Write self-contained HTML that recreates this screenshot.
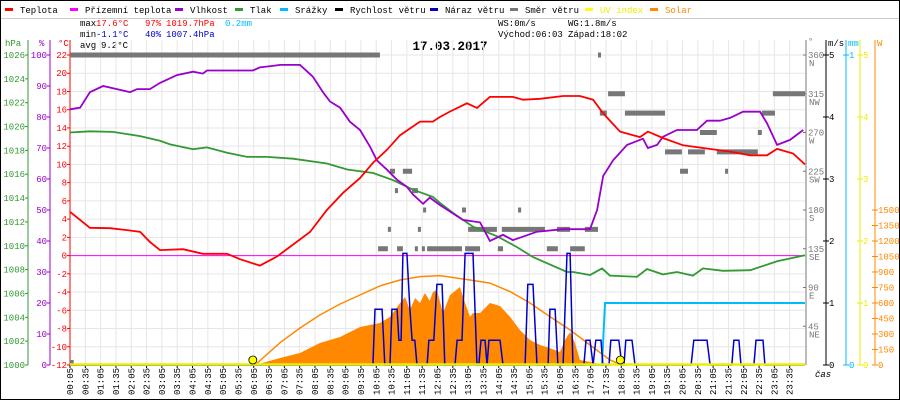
<!DOCTYPE html>
<html><head><meta charset="utf-8"><style>
html,body{margin:0;padding:0;background:#fff}
svg{display:block}
text{font-family:"Liberation Mono",monospace;font-size:9px}
</style></head><body>
<svg id="chart" width="900" height="400" viewBox="0 0 900 400" xmlns="http://www.w3.org/2000/svg">
<rect x="0.5" y="0.5" width="899" height="399" fill="#fff" stroke="#000"/>
<g id="legend"></g>
<g>
<text x="80" y="26" fill="#000">max</text><text x="96" y="26" fill="#f00">17.6°C</text><text x="145" y="26" fill="#f00">97%</text><text x="166" y="26" fill="#f00">1019.7hPa</text><text x="225" y="26" fill="#0bf">0.2mm</text>
<text x="80" y="37" fill="#000">min</text><text x="96" y="37" fill="#00c">-1.1°C</text><text x="145" y="37" fill="#00c">40%</text><text x="166" y="37" fill="#00c">1007.4hPa</text>
<text x="80" y="48" fill="#000">avg</text><text x="101" y="48" fill="#000">9.2°C</text>
<text x="498" y="26" fill="#000">WS:0m/s</text><text x="568" y="26" fill="#000">WG:1.8m/s</text>
<text x="498" y="37" fill="#000">Východ:06:03</text><text x="568" y="37" fill="#000">Západ:18:02</text>
</g>
<text x="450" y="50" text-anchor="middle" style="font-size:12.5px;font-weight:bold">17.03.2017</text>
<g id="grid"></g>
<g id="axes"></g>
<g id="series"></g>
</svg>
<script>
// ---- data (hours since 00:05) ----
const tempH=[0,0.65,1.31,1.86,2.29,2.61,2.94,3.69,4.34,5.13,5.55,6.20,6.76,7.28,7.84,8.39,8.92,9.47,9.90,10.35,10.78,11.43,11.85,12.08,12.41,12.96,13.29,13.71,14.46,14.79,15.35,16.10,16.65,17.08,17.41,17.96,18.61,18.87,19.36,20.02,20.67,21.55,22.21,22.76,23.09,23.61,24.0];
const tempV=[4.8,3.05,3.0,2.8,2.6,1.5,0.6,0.7,0.2,0.2,-0.4,-1.1,-0.1,1.2,2.6,5.0,6.9,8.5,10.2,11.6,13.2,14.7,14.7,15.2,15.8,16.7,16.2,17.4,17.4,17.1,17.2,17.5,17.5,17.1,15.6,13.6,13.0,13.6,12.9,12.1,11.8,11.4,11.0,11.0,11.7,11.2,10.0];
const humH=[0,0.33,0.65,1.08,1.53,1.96,2.19,2.61,2.94,3.49,4.02,4.34,4.47,5.97,6.20,6.63,6.86,7.51,7.93,8.26,8.49,8.82,9.14,9.47,9.80,10.02,10.35,10.68,11.00,11.20,11.53,11.75,12.08,12.83,13.39,13.71,14.14,14.46,14.79,15.25,16.10,16.98,17.21,17.41,17.73,18.19,18.71,18.87,19.17,19.36,19.82,20.47,20.80,21.22,21.55,21.98,22.53,22.76,23.09,23.51,23.94];
const humV=[82.5,83,88,90,89,88,89,89,91,93.5,94.6,94,95,95,96,96.5,96.8,96.8,93,88,85,83,78.5,75.8,70.4,66,63,59.7,57.5,55,52,54,51.6,46.8,46,40,42,40.3,41.4,43,43.8,43.8,50,61,66,71,73,70,71,73.6,75.8,75.8,78.8,78.8,79.7,81.7,81.7,78,71,72.6,75.8];
const presH=[0,0.65,1.40,2.29,2.94,3.27,4.02,4.47,5.13,5.78,6.43,7.28,8.39,9.05,9.90,10.55,11.20,11.85,12.08,12.51,13.16,13.94,14.59,15.12,16.23,16.43,16.98,17.37,17.63,18.51,18.84,19.36,19.82,20.34,20.67,21.32,22.21,23.09,24.0];
const presV=[1019.5,1019.6,1019.55,1019.2,1018.8,1018.5,1018.1,1018.25,1017.8,1017.45,1017.45,1017.3,1016.9,1016.4,1016.1,1015.5,1014.7,1014.1,1013.6,1012.75,1011.6,1010.8,1009.9,1009.05,1007.8,1007.8,1007.55,1008.1,1007.5,1007.4,1008.05,1007.6,1007.8,1007.5,1008.1,1007.9,1007.95,1008.7,1009.2];
const solarTheoH=[6.04,6.86,7.51,8.16,8.82,9.47,10.12,10.78,11.43,12.08,13.06,13.71,14.37,15.02,15.67,16.33,16.98,17.63,18.02];
const solarTheoV=[0,216,358,484,590,677,765,823,855,865,823,793,710,600,468,339,194,48,0];
const solarH=[6.04,6.86,7.51,8.16,8.82,9.47,10.12,10.45,10.78,10.94,11.10,11.27,11.43,11.59,11.75,11.85,11.98,12.18,12.41,12.73,12.90,13.06,13.16,13.39,13.71,14.04,14.37,14.69,15.02,15.35,15.67,16.00,16.16,16.33,16.49,16.65,16.98,17.30,17.80];
const solarV=[0,68,116,213,271,368,406,465,600,658,532,648,600,697,620,706,726,503,677,755,600,465,503,503,600,571,465,339,242,194,164,126,242,319,213,48,30,10,0];
const gustH=[0,9.89,9.96,10.19,10.28,10.45,10.51,10.68,10.74,10.81,10.87,11.00,11.10,11.17,11.26,11.33,11.66,11.72,11.88,11.98,12.15,12.24,12.57,12.64,12.80,12.90,13.16,13.29,13.35,13.42,13.55,13.62,13.68,14.04,14.14,14.86,14.95,15.12,15.25,15.61,15.67,15.84,15.93,16.10,16.23,16.33,16.42,16.78,16.85,16.98,17.08,17.17,17.34,17.40,17.60,17.66,17.92,18.02,18.09,18.15,18.35,18.45,20.28,20.37,20.80,20.90,21.61,21.68,21.84,21.91,22.33,22.40,22.63,22.69,24.0];
const gustV=[0,0,0.9,0.9,0,0,0.9,0.9,0.4,0.4,1.8,1.8,0.9,0.4,0.4,0,0,0.4,0.4,1.3,1.3,0,0,0.4,0.4,1.8,1.8,0,0,0.4,0.4,0,0.4,0.4,0,0,1.3,1.3,0,0,0.9,0.9,0,0,1.8,1.8,0,0,0.4,0.4,0,0.4,0.4,0,0,0.4,0.4,0,0,0.4,0.4,0,0,0.4,0.4,0,0,0.4,0.4,0,0,0.4,0.4,0,0];
const rainH=[0,17.37,17.47,24.0];
const rainV=[0,0,0.2,0.2];
const dirStart=[0,17.24,17.57,22.95,17.30,18.12,22.59,20.57,22.46,19.43,20.18,21.12,19.92,21.39,10.45,10.87,10.61,11.17,11.53,12.80,14.63,10.38,11.36,13.0,14.10,15.90,16.81,10.06,10.68,11.26,11.49,11.66,12.90,13.97,15.57,16.33,0];
const dirEnd=[10.12,17.34,18.12,24.0,17.53,19.43,23.02,21.12,22.59,19.98,20.73,22.46,20.18,21.48,10.61,11.17,10.71,11.36,11.59,12.93,14.73,10.45,11.43,13.94,15.51,16.33,17.24,10.38,10.87,11.36,11.56,12.80,13.39,14.14,15.93,16.81,0.12];
const dirDeg=[360,360,315,315,292.5,292.5,292.5,270,270,247.5,247.5,247.5,225,225,225,225,202.5,202.5,180,180,180,157.5,157.5,157.5,157.5,157.5,157.5,135,135,135,135,135,135,135,135,135,3];
const sunEvents=[5.97,17.97];
const tempTicks=[-12,-10,-8,-6,-4,-2,0,2,4,6,8,10,12,14,16,18,20,22];
const humTicks=[0,10,20,30,40,50,60,70,80,90,100];
const presTicks=[1000,1002,1004,1006,1008,1010,1012,1014,1016,1018,1020,1022,1024,1026];
const dirTicks=[45,90,135,180,225,270,315,360];
const dirNames=["NE","E","SE","S","SW","W","NW","N"];
const windTicks=[0,1,2,3,4,5];
const uvTicks=[0,1,2,3,4,5];
const solarTicks=[0,150,300,450,600,750,900,1050,1200,1350,1500];

// ---- scales ----
const X0=70,X1=805,Y0=365,Y1=55;
const xs=h=>X0+h*(X1-X0)/24;
const yT=t=>Y0-(t+12)*(Y0-Y1)/34;
const yH=p=>Y0-p*(Y0-Y1)/100;
const yP=v=>Y0-(v-1000)*(Y0-Y1)/26;
const yD=d=>Y0-d*(Y0-Y1)/360;
const yW=v=>Y0-v*(Y0-Y1)/5;
const yR=m=>Y0-m*(Y0-Y1)/1;
const yUV=u=>Y0-u*(Y0-Y1)/5;
const yS=w=>Y0-w*155/1500;

const NS="http://www.w3.org/2000/svg";
function mk(tag,attrs,parent,txt){const e=document.createElementNS(NS,tag);for(const k in attrs)e.setAttribute(k,attrs[k]);if(txt!==undefined)e.textContent=txt;parent.appendChild(e);return e;}
const G=document.getElementById('grid'),A=document.getElementById('axes'),S=document.getElementById('series'),L=document.getElementById('legend');

// legend
const legNames=["Teplota","Přízemní teplota","Vlhkost","Tlak","Srážky","Rychlost větru","Náraz větru","Směr větru","UV index","Solar"];
const legColors=["#f00","#f0f","#90c","#393","#0bf","#000","#00c","#777","#ff0","#f80"];
const legX=[5,70,175,235,280,335,430,510,585,650];
for(let i=0;i<legNames.length;i++){
  const g=mk('g',{},L);
  
  
  mk('rect',{x:legX[i],y:8,width:8,height:3,fill:legColors[i]},g);
  mk('text',{x:legX[i]+15,y:13,fill:legColors[i]==="#ff0"?"#ee0":(legColors[i]==="#f80"?"#f80":"#000")},g,legNames[i]);
}
mk('line',{x1:1,y1:18.5,x2:899,y2:18.5,stroke:"#ccc"},L);

// grid
for(let i=0;i<48;i++){const x=xs(i*0.5);const l=mk('line',{x1:x,y1:40,x2:x,y2:Y0,stroke:"#e6e6e6"},G);}
tempTicks.forEach(t=>{const l=mk('line',{x1:X0,y1:yT(t),x2:X1,y2:yT(t),stroke:"#e6e6e6"},G);});

// left axes
function vaxis(x,col,ticks,yf,fmt,name,side){
  const g=mk('g',{},A);
  mk('line',{x1:x,y1:Y1-15,x2:x,y2:Y0,stroke:col},g);
  ticks.forEach((v,i)=>{const y=yf(v);
    mk('line',{x1:x-3,y1:y,x2:x+(side?3:0),y2:y,stroke:col},g);
    mk('text',{x:side?x+3:x-3,y:y+3,fill:col,'text-anchor':side?'start':'end'},g,fmt(v,i));});
  return g;
}
vaxis(28,"#393",presTicks,yP,v=>v,'pressure-axis',false);
vaxis(50,"#90c",humTicks,yH,v=>v,'humidity-axis',false);
vaxis(70,"#f00",tempTicks,yT,v=>v,'temperature-axis',false);
mk('text',{x:5,y:46,fill:"#393"},A,"hPa");
mk('text',{x:39,y:46,fill:"#90c"},A,"%");
mk('text',{x:58,y:46,fill:"#f00"},A,"°C");

// right axes
const gd=mk('g',{},A);
mk('line',{x1:806,y1:40,x2:806,y2:Y0,stroke:"#777"},gd);
mk('text',{x:808,y:44,fill:"#777"},gd,"°");
dirTicks.forEach((d,i)=>{const y=yD(d);mk('line',{x1:803,y1:y,x2:806,y2:y,stroke:"#777"},gd);
  mk('text',{x:808,y:y+3,fill:"#777"},gd,d);mk('text',{x:809,y:y+11,fill:"#777"},gd,dirNames[i]);});
vaxis(826,"#000",windTicks,yW,v=>v,'wind-axis',true);
mk('text',{x:828,y:46,fill:"#000"},A,"m/s");
const gm=vaxis(846,"#0bf",[0,1],yR,v=>v,'rain-axis',true);
mk('text',{x:848,y:46,fill:"#0bf"},A,"mm");
vaxis(860,"#ee0",uvTicks,yUV,v=>v,'uv-axis',true);
vaxis(875,"#f80",solarTicks,yS,v=>v,'solar-axis',true);
mk('text',{x:877,y:46,fill:"#f80"},A,"W");

// x axis labels
for(let i=0;i<48;i++){const h=i*0.5;const mins=5+i*30;const lab=String(Math.floor(mins/60)).padStart(2,'0')+":"+String(mins%60).padStart(2,'0');
  const x=xs(h);mk('line',{x1:x,y1:Y0,x2:x,y2:Y0+3,stroke:"#000"},A);
  const t=mk('text',{x:0,y:0,transform:`translate(${x+3},395) rotate(-90)`,fill:"#000"},A,lab);
  }
mk('text',{x:815,y:377,fill:"#000",'font-style':'italic'},A,"čas");

// series
function pts(H,V,yf){return H.map((h,i)=>xs(h).toFixed(1)+","+yf(V[i]).toFixed(1)).join(" ");}
// solar area
const sa=mk('polygon',{points:pts(solarH,solarV,yS)+" "+xs(solarH[solarH.length-1])+","+Y0+" "+xs(solarH[0])+","+Y0,fill:"#f80"},S);

const st=mk('polyline',{points:pts(solarTheoH,solarTheoV,yS),fill:"none",stroke:"#f80","stroke-width":1.5},S);

// zero apparent temp line
const mz=mk('line',{x1:X0,y1:yT(0),x2:X1,y2:yT(0),stroke:"#f0f"},S);

// wind direction blocks
dirDeg.forEach((d,i)=>{const r=mk('rect',{x:xs(dirStart[i]),y:yD(d)-2.5,width:Math.max(3,xs(dirEnd[i])-xs(dirStart[i])),height:5,fill:"#777"},S);
  });
const lines=[[presH,presV,yP,"#393","pressure-line"],[humH,humV,yH,"#90c","humidity-line"],[tempH,tempV,yT,"#f00","temperature-line"]];
lines.forEach(l=>{const p=mk('polyline',{points:pts(l[0],l[1],l[2]),fill:"none",stroke:l[3],"stroke-width":1.8},S);
  });
const rl=mk('polyline',{points:pts(rainH,rainV,yR),fill:"none",stroke:"#0bf","stroke-width":2},S);

const gl=mk('polyline',{points:pts(gustH,gustV,yW),fill:"none",stroke:"#00c","stroke-width":1.5},S);

const uv=mk('line',{x1:X0,y1:Y0-0.5,x2:X1,y2:Y0-0.5,stroke:"#ee0","stroke-width":2.5},S);

sunEvents.forEach(h=>{const c=mk('circle',{cx:xs(h),cy:Y0-5,r:4,fill:"#ff0",stroke:"#000","stroke-width":0.8},S);
  });
</script>
</body></html>
